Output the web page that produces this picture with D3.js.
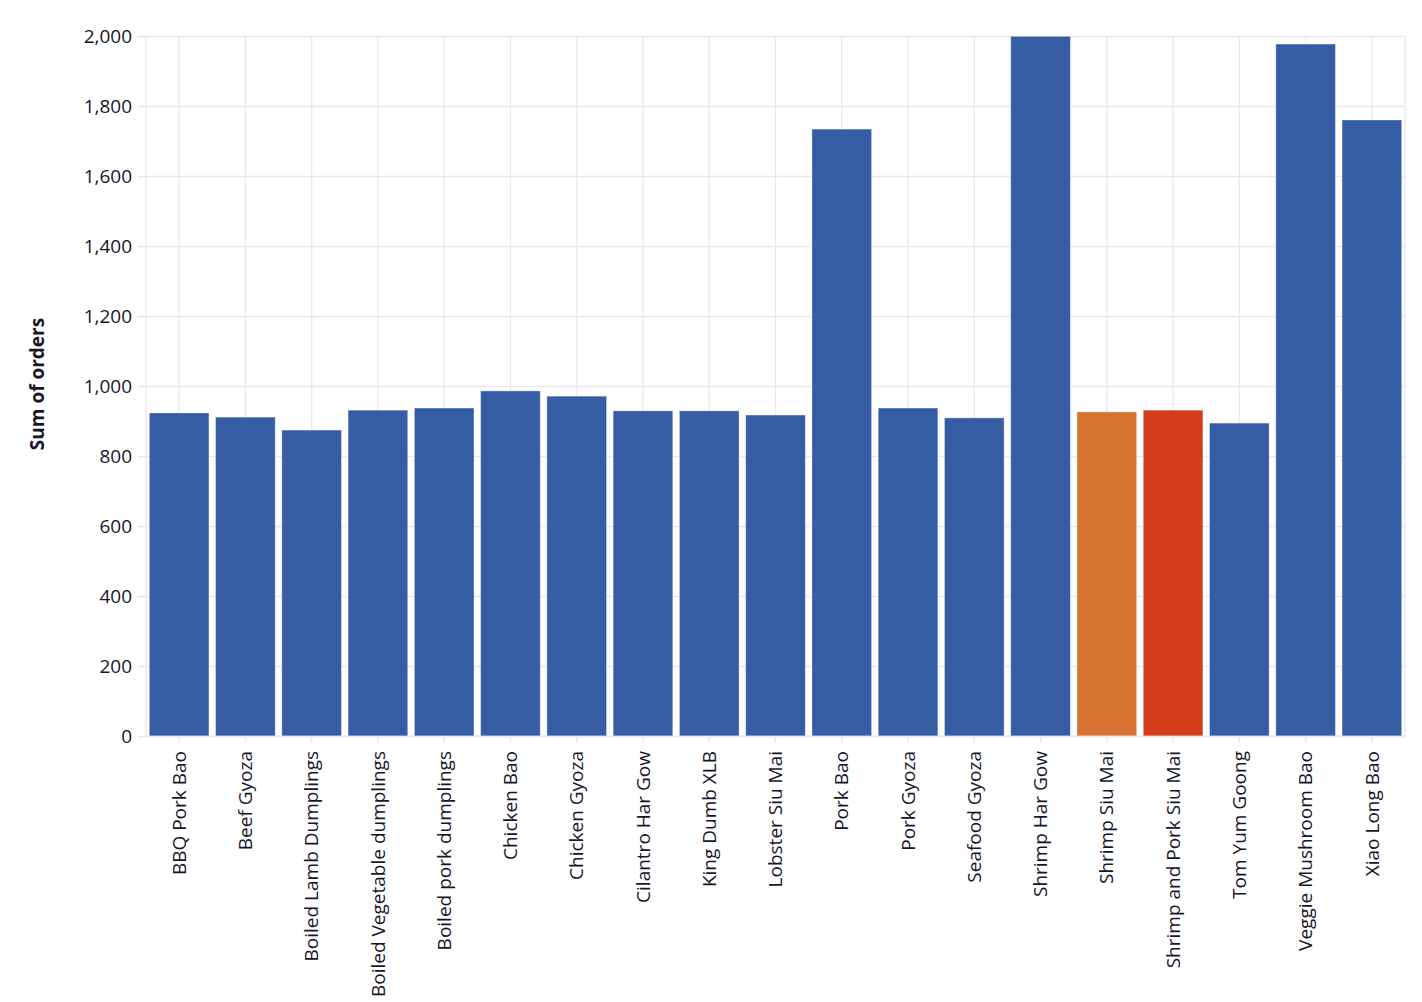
<!DOCTYPE html>
<html>
<head>
<meta charset="utf-8">
<script src="https://cdn.jsdelivr.net/npm/d3@7"></script>
<style>
  body { margin: 0; background: #fff; }
  text { font-family: "Open Sans", sans-serif; fill: #161629; }
</style>
</head>
<body>
<div id="chart"></div>
<script>
const categories = ["BBQ Pork Bao", "Beef Gyoza", "Boiled Lamb Dumplings", "Boiled Vegetable dumplings",
  "Boiled pork dumplings", "Chicken Bao", "Chicken Gyoza", "Cilantro Har Gow", "King Dumb XLB",
  "Lobster Siu Mai", "Pork Bao", "Pork Gyoza", "Seafood Gyoza", "Shrimp Har Gow", "Shrimp Siu Mai",
  "Shrimp and Pork Siu Mai", "Tom Yum Goong", "Veggie Mushroom Bao", "Xiao Long Bao"];
const orders = [923, 911, 874, 931, 937, 986, 971, 929, 929, 917, 1734, 937, 909, 1999, 926, 931, 894, 1977, 1760];
const highlight = { "Shrimp Siu Mai": "#d77233", "Shrimp and Pork Siu Mai": "#d43d19" };
const yTicks = [0, 200, 400, 600, 800, 1000, 1200, 1400, 1600, 1800, 2000];

var margin = {top: 36, right: 17, bottom: 266, left: 146},
    width = 1422 - margin.left - margin.right,
    height = 1002 - margin.top - margin.bottom;

var svg = d3.select("#chart")
  .append("svg")
  .attr("width", 1422)
  .attr("height", 1002)
  .append("g")
  .attr("transform", "translate(" + margin.left + "," + margin.top + ")");

var x = d3.scaleBand().domain(categories).range([0, width]).paddingInner(0.1).paddingOuter(0.05);
var y = d3.scaleLinear().domain([0, 2000]).range([height, 0]);

var grid = "#e8e8ef";

// horizontal grid + y ticks
svg.append("g")
  .call(d3.axisLeft(y).tickValues(yTicks).tickSize(-width).tickSizeOuter(0).tickPadding(14)
    .tickFormat(d3.format(",")))
  .call(g => g.select(".domain").remove())
  .call(g => g.selectAll("line").attr("stroke", grid).attr("stroke-width", 1.3).attr("x1", -8))
  .call(g => g.selectAll("text").style("font-size", "19px").attr("fill", "#161629"));

// vertical grid at band centres
svg.append("g")
  .selectAll("line")
  .data(categories)
  .join("line")
  .attr("x1", d => x(d) + x.bandwidth() / 2)
  .attr("x2", d => x(d) + x.bandwidth() / 2)
  .attr("y1", 0).attr("y2", height)
  .attr("stroke", grid).attr("stroke-width", 1.3);

// plot frame sides
svg.append("line").attr("x1", 0).attr("x2", 0).attr("y1", 0).attr("y2", height)
  .attr("stroke", grid).attr("stroke-width", 1.3);
svg.append("line").attr("x1", width).attr("x2", width).attr("y1", 0).attr("y2", height)
  .attr("stroke", grid).attr("stroke-width", 1.3);

// bars
svg.append("g")
  .selectAll("rect")
  .data(categories)
  .join("rect")
  .attr("x", d => x(d))
  .attr("y", (d, i) => y(orders[i]))
  .attr("width", x.bandwidth())
  .attr("height", (d, i) => height - y(orders[i]))
  .attr("fill", d => highlight[d] || "#365da3")
  .attr("stroke", "#ffffff")
  .attr("stroke-opacity", 0.35)
  .attr("stroke-width", 1);

// x axis
svg.append("g")
  .attr("transform", "translate(0," + height + ")")
  .call(d3.axisBottom(x).tickSize(7).tickSizeOuter(0).tickPadding(8))
  .call(g => g.select(".domain").attr("stroke", grid).attr("stroke-width", 1.5))
  .call(g => g.selectAll("line").attr("stroke", grid).attr("stroke-width", 1.5))
  .call(g => g.selectAll("text")
    .style("font-size", "19px")
    .attr("fill", "#161629")
    .attr("transform", "rotate(-90)")
    .attr("text-anchor", "end")
    .attr("x", -15)
    .attr("y", 0)
    .attr("dy", "0.35em"));

// y title
svg.append("text")
  .attr("transform", "rotate(-90)")
  .attr("x", -height / 2 + 2)
  .attr("y", -102)
  .attr("text-anchor", "middle")
  .style("font-size", "19px")
  .style("font-weight", "bold")
  .text("Sum of orders");
</script>
</body>
</html>
